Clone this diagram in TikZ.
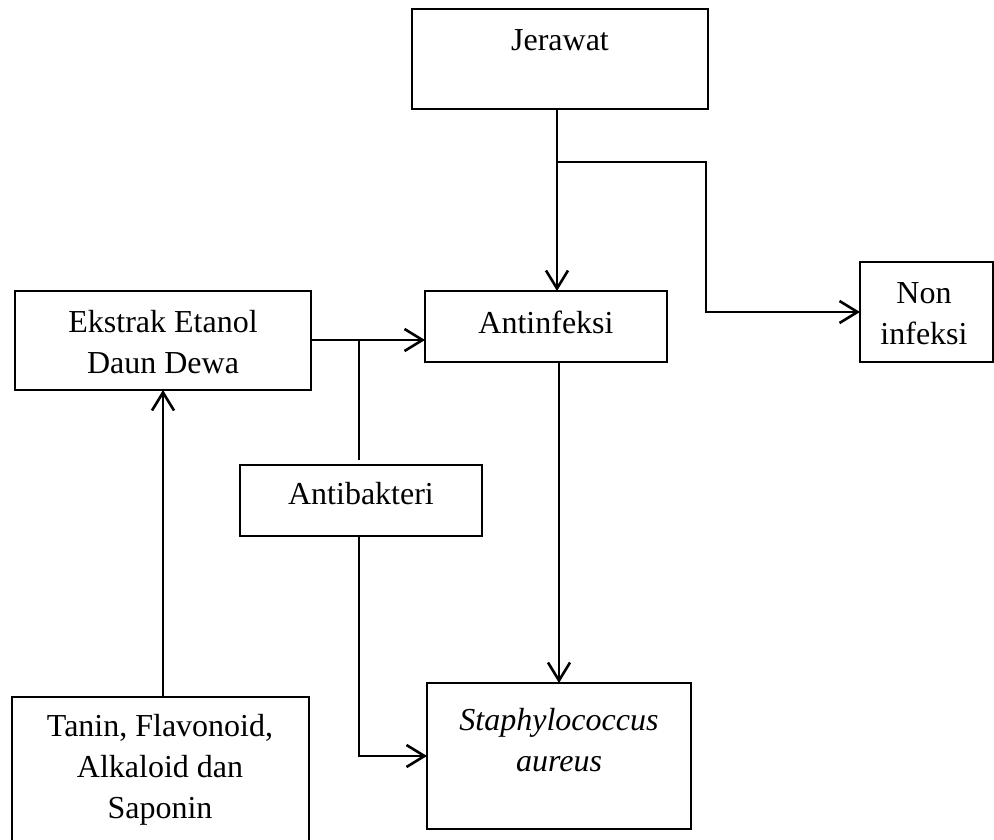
\documentclass[tikz,border=0pt]{standalone}
\usepackage{fontspec}
\setmainfont{Liberation Serif}
\usetikzlibrary{arrows.meta}
\tikzset{
  box/.style={draw=black, line width=1.3pt, rectangle, inner sep=0pt, outer sep=0pt},
  txt/.style={inner sep=0pt, align=center, font=\fontsize{32}{41}\selectfont},
  conn/.style={draw=black, line width=2.6pt},
  arr/.style={conn, -{Straight Barb[length=18pt, width=22pt, line width=2.6pt]}}
}
\begin{document}
\begin{tikzpicture}[x=1pt, y=-1pt]
\clip (0,0) rectangle (994,839);
\fill[white] (0,0) rectangle (994,839);
% boxes
\node[box, minimum width=296pt, minimum height=100pt] (jw) at (560,59) {};
\node[box, minimum width=133pt, minimum height=100pt] (ni) at (926.5,312) {};
\node[box, minimum width=296pt, minimum height=99pt] (ek) at (163,340.5) {};
\node[box, minimum width=242pt, minimum height=71pt] (ai) at (546,326.5) {};
\node[box, minimum width=242pt, minimum height=71pt] (ab) at (361,500.5) {};
\node[box, minimum width=264pt, minimum height=146pt] (st) at (559,756) {};
\node[box, minimum width=297pt, minimum height=170pt] (tn) at (160.5,782) {};
% texts
\node[txt] (jwt) at (560,40) {Jerawat};
\node[txt] (nit) at (924,314) {Non\\infeksi};
\node[txt] (ekt) at (163,342) {Ekstrak Etanol\\Daun Dewa};
\node[txt] (ait) at (546,322) {Antinfeksi};
\node[txt] (abt) at (361,494) {Antibakteri};
\node[txt, font=\fontsize{32}{41}\selectfont\itshape] (stt) at (559,740) {Staphylococcus\\aureus};
\node[txt] (tnt) at (160,770) {Tanin, Flavonoid,\\Alkaloid dan\\Saponin};
% connectors
\coordinate (jA) at (557,162);
\coordinate (kA) at (359,340);
\draw[arr] (jw.south -| jA) -- (ai.north -| jA);
\draw[arr] (jA) -- ++(149,0) |- (ni.west);
\draw[arr] (ek.east |- kA) -- (ai.west |- kA);
\draw[conn] (kA) -- ([yshift=5pt]ab.north -| kA);
\draw[arr] (ab.south -| kA) |- (st.west);
\draw[arr] (ai.south -| st.north) -- (st.north);
\draw[arr] (tn.north -| ek.south) -- (ek.south);
\end{tikzpicture}
\end{document}
